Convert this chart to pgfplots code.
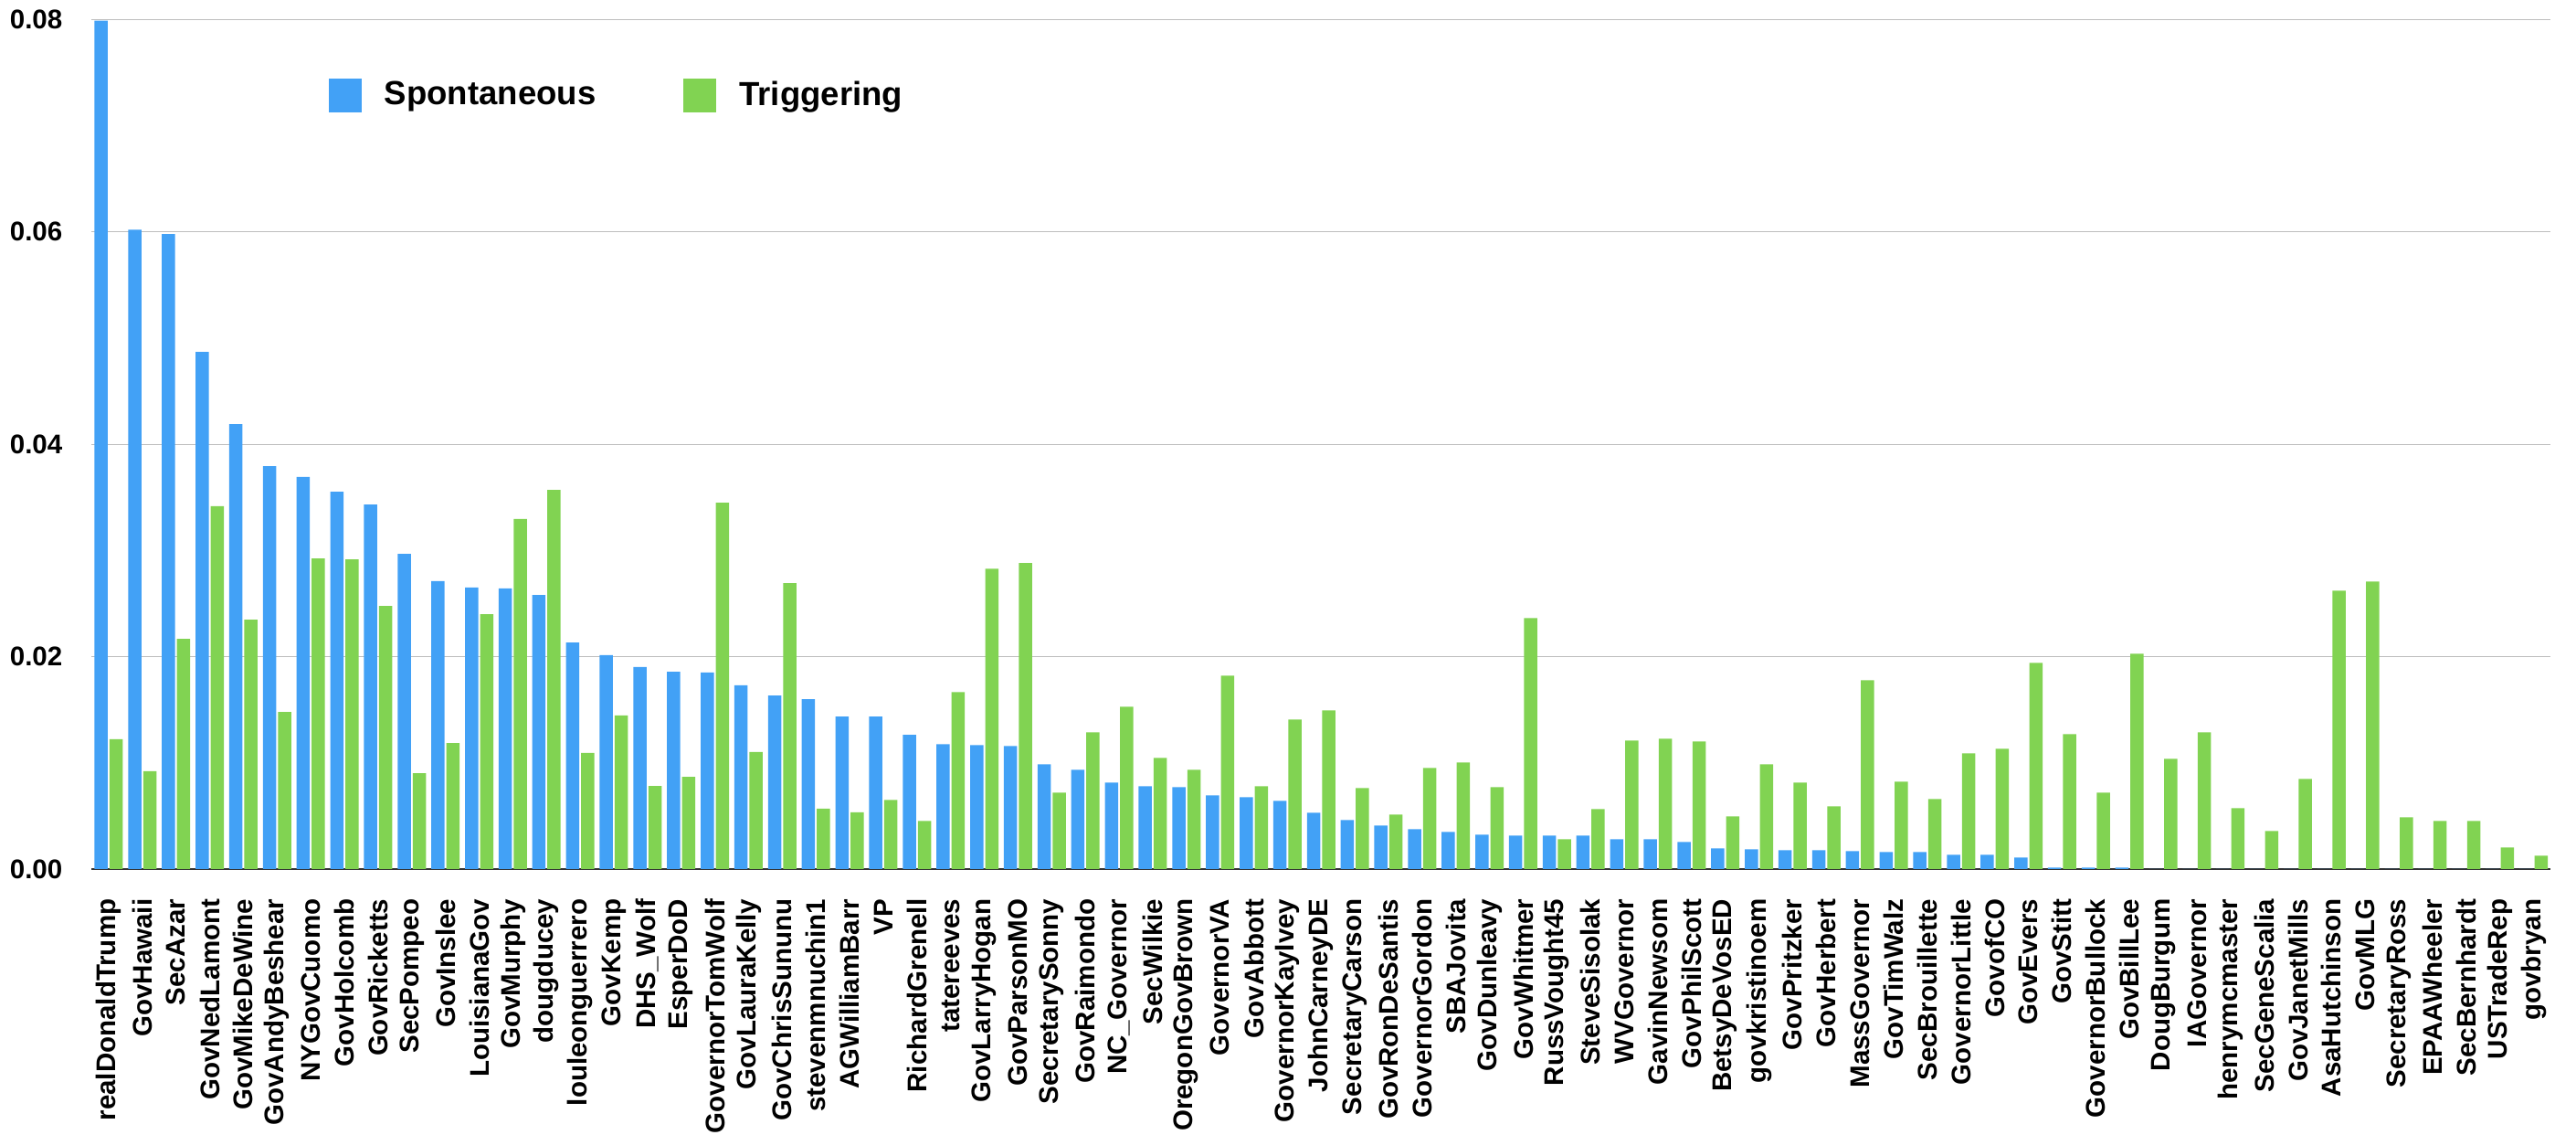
\documentclass[border=0pt]{standalone}
\usepackage{fontspec}
\setmainfont{Liberation Sans}
\usepackage{pgfplots}
\usepackage{pgfplotstable}
\pgfplotsset{compat=1.18}
\definecolor{cblue}{HTML}{42A1F6}
\definecolor{cgreen}{HTML}{81D352}
\pgfplotstableread{
idx spont trig
0 0.0799 0.01223
1 0.0602 0.00921
2 0.0598 0.02168
3 0.0487 0.03417
4 0.0419 0.02349
5 0.03795 0.01479
6 0.03692 0.02925
7 0.03553 0.02916
8 0.03432 0.02478
9 0.02967 0.00903
10 0.02711 0.01186
11 0.02651 0.02400
12 0.02642 0.03297
13 0.02581 0.03571
14 0.02134 0.01093
15 0.02014 0.01446
16 0.01902 0.00782
17 0.01857 0.00869
18 0.01851 0.03450
19 0.01730 0.01102
20 0.01633 0.02693
21 0.01600 0.00568
22 0.01437 0.00534
23 0.01436 0.00651
24 0.01263 0.00453
25 0.01176 0.01667
26 0.01168 0.02829
27 0.01159 0.02881
28 0.00987 0.00720
29 0.00935 0.01288
30 0.00815 0.01529
31 0.00780 0.01047
32 0.00772 0.00935
33 0.00694 0.01822
34 0.00677 0.00780
35 0.00643 0.01409
36 0.00531 0.01495
37 0.00462 0.00763
38 0.00410 0.00514
39 0.00376 0.00953
40 0.00350 0.01004
41 0.00324 0.00772
42 0.00316 0.02364
43 0.00316 0.00281
44 0.00316 0.00565
45 0.00281 0.01211
46 0.00281 0.01228
47 0.00255 0.01202
48 0.00195 0.00496
49 0.00186 0.00987
50 0.00178 0.00815
51 0.00178 0.00591
52 0.00169 0.01779
53 0.00161 0.00823
54 0.00161 0.00660
55 0.00135 0.01090
56 0.00135 0.01133
57 0.00109 0.01942
58 0.00014 0.01271
59 0.00014 0.00720
60 0.00014 0.02028
61 0 0.01039
62 0 0.01288
63 0 0.00574
64 0 0.00359
65 0 0.00849
66 0 0.02622
67 0 0.02708
68 0 0.00488
69 0 0.00453
70 0 0.00453
71 0 0.00204
72 0 0.00126
}\datatable
\begin{document}
\begin{tikzpicture}
\path[use as bounding box] (0,0) rectangle (282mm,124.2mm);
\begin{axis}[
  at={(10.05mm,29.1mm)}, anchor=south west,
  scale only axis, width=269.15mm, height=92.96mm,
  xmin=-0.5, xmax=72.5, ymin=0, ymax=0.08,
  enlargelimits=false,
  ybar=0.2mm, bar width=1.45mm,
  axis line style={draw=none}, tick style={draw=none},
  ymajorgrids, grid style={color=black!26, line width=0.13mm},
  ytick={0,0.02,0.04,0.06,0.08},
  scaled y ticks=false,
  /pgf/number format/assume math mode=true,
  yticklabel style={/pgf/number format/fixed, /pgf/number format/fixed zerofill, /pgf/number format/precision=2, anchor=east, inner sep=0pt, font=\fontsize{8.4}{10}\selectfont\bfseries},
  yticklabel shift=3.15mm,
  extra y ticks={0}, extra y tick labels={},
  extra y tick style={grid style={color=black!80, line width=0.17mm}},
  xtick={0,...,72},
  xticklabels={realDonaldTrump,GovHawaii,SecAzar,GovNedLamont,GovMikeDeWine,GovAndyBeshear,NYGovCuomo,GovHolcomb,GovRicketts,SecPompeo,GovInslee,LouisianaGov,GovMurphy,dougducey,louleonguerrero,GovKemp,DHS\_Wolf,EsperDoD,GovernorTomWolf,GovLauraKelly,GovChrisSununu,stevenmnuchin1,AGWilliamBarr,VP,RichardGrenell,tatereeves,GovLarryHogan,GovParsonMO,SecretarySonny,GovRaimondo,NC\_Governor,SecWilkie,OregonGovBrown,GovernorVA,GovAbbott,GovernorKayIvey,JohnCarneyDE,SecretaryCarson,GovRonDeSantis,GovernorGordon,SBAJovita,GovDunleavy,GovWhitmer,RussVought45,SteveSisolak,WVGovernor,GavinNewsom,GovPhilScott,BetsyDeVosED,govkristinoem,GovPritzker,GovHerbert,MassGovernor,GovTimWalz,SecBrouillette,GovernorLittle,GovofCO,GovEvers,GovStitt,GovernorBullock,GovBillLee,DougBurgum,IAGovernor,henrymcmaster,SecGeneScalia,GovJanetMills,AsaHutchinson,GovMLG,SecretaryRoss,EPAAWheeler,SecBernhardt,USTradeRep,govbryan},
  xticklabel style={rotate=90, anchor=east, inner sep=0pt, font=\fontsize{8.4}{10}\selectfont\bfseries},
  xticklabel shift=1.7mm,
  legend columns=2,
  legend style={at={(rel axis cs:0.0961,0.9106)}, anchor=west, draw=none, fill=none, inner sep=0pt, font=\fontsize{10.4}{12}\selectfont\bfseries, nodes={inner sep=0pt}, /tikz/every odd column/.append style={column sep=2.5mm}, /tikz/every even column/.append style={column sep=9.6mm}},
  legend image code/.code={\fill[#1] (0mm,-1.85mm) rectangle (3.6mm,1.85mm);},
]
\addplot[fill=cblue, draw=none] table[x=idx, y=spont]{\datatable};
\addplot[fill=cgreen, draw=none] table[x=idx, y=trig]{\datatable};
\legend{Spontaneous, Triggering}
\end{axis}
\end{tikzpicture}
\end{document}
